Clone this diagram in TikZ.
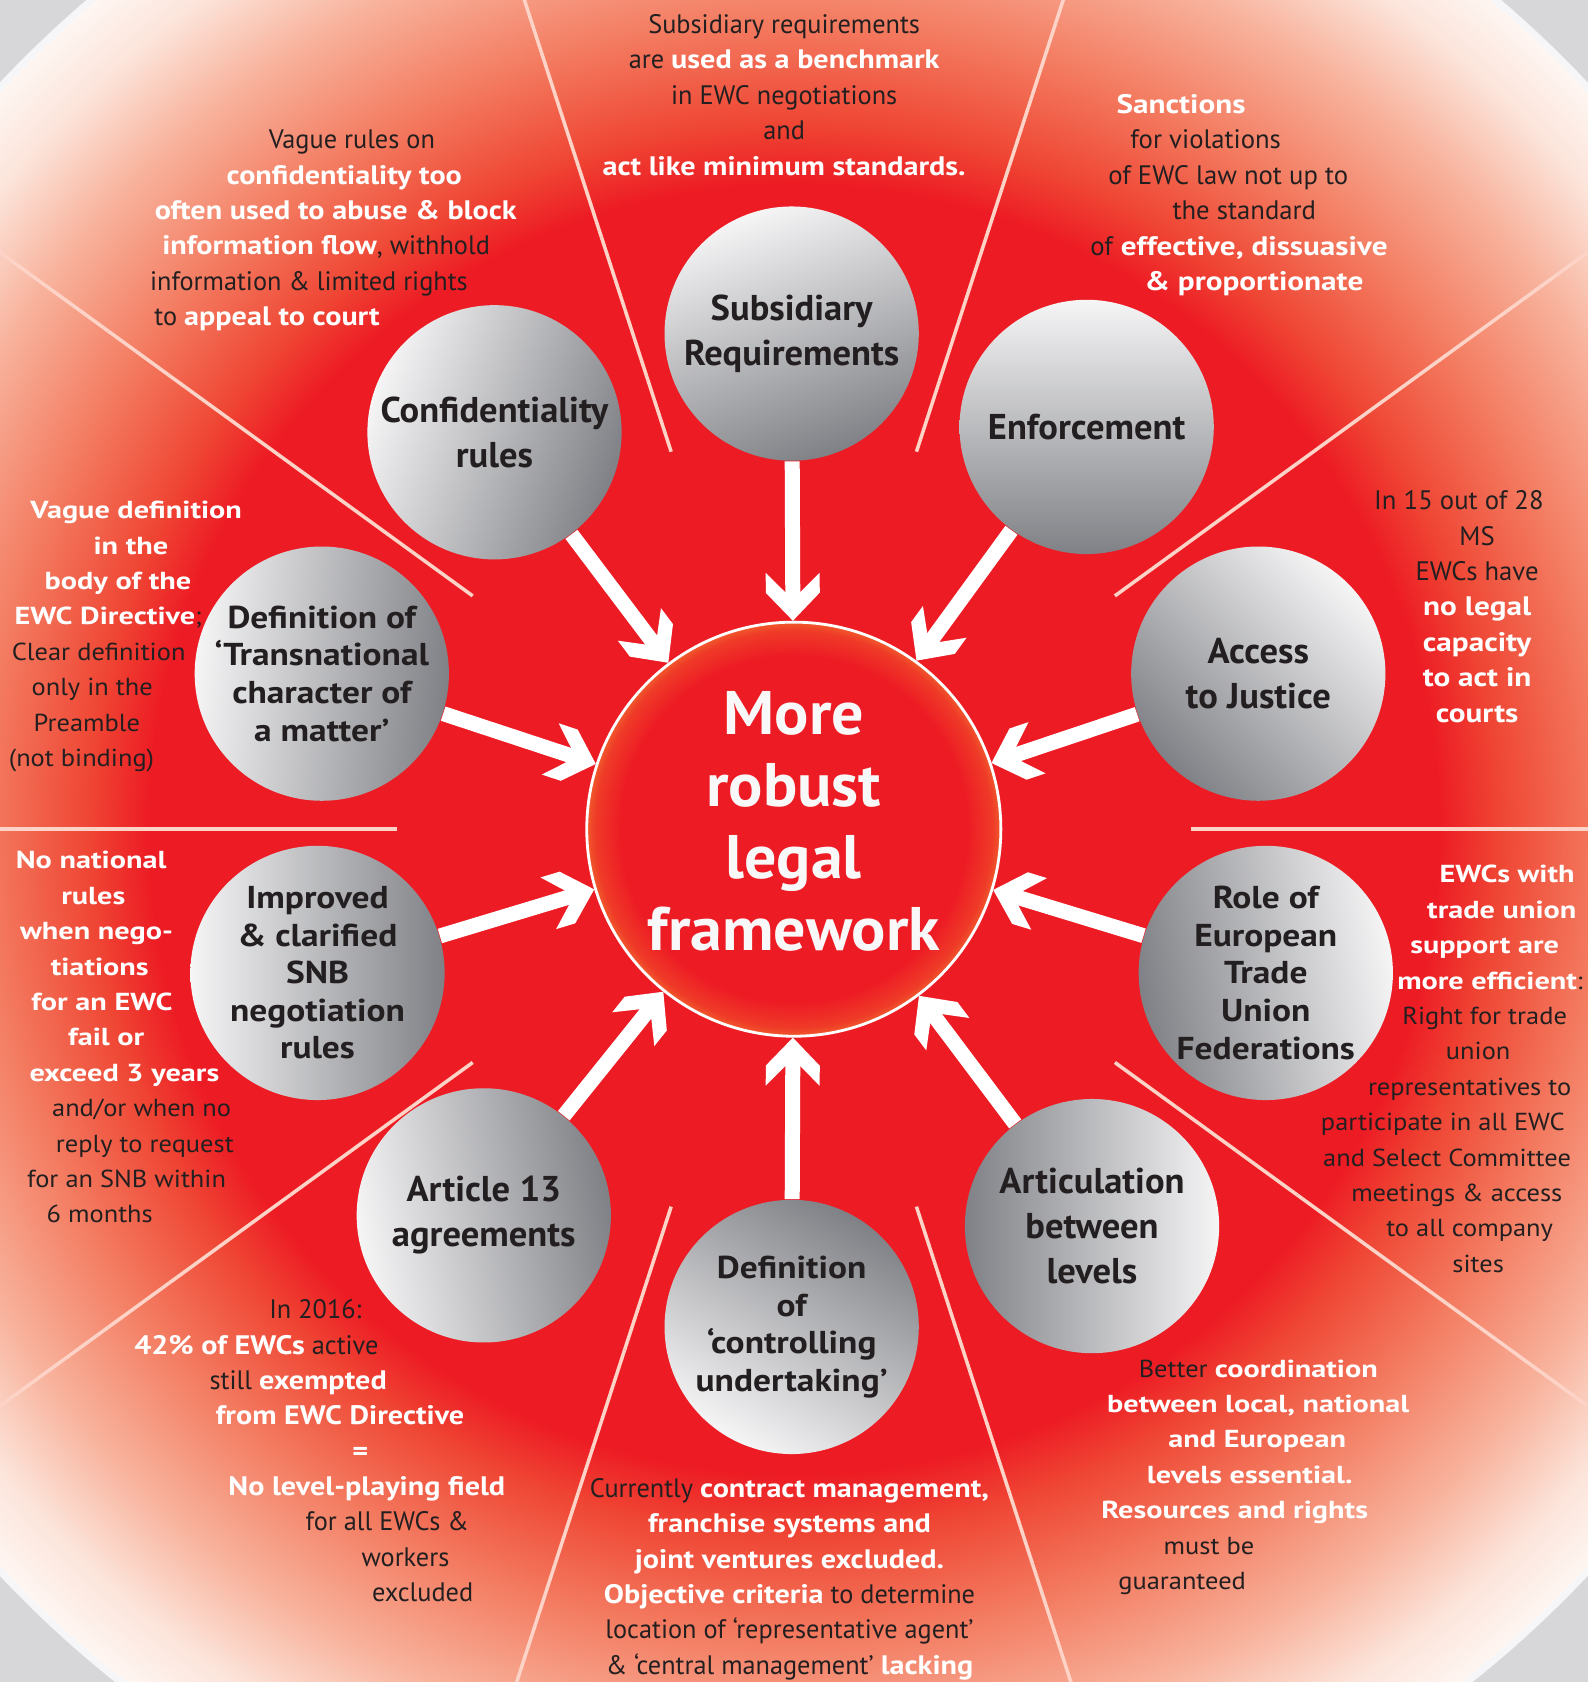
\documentclass[tikz,border=0pt]{standalone}
\usepackage{fontspec}
\setmainfont{PT Sans}
\newfontfamily\notecond{PT Sans}[UprightFeatures={FakeStretch=0.985},BoldFeatures={FakeStretch=1.13}]
\newfontfamily\notemid{PT Sans}[UprightFeatures={FakeStretch=1.0},BoldFeatures={FakeStretch=1.17}]
\newfontfamily\notewide{PT Sans}[UprightFeatures={FakeStretch=1.075},BoldFeatures={FakeStretch=1.23}]
\newfontfamily\ballfont{PT Sans}[FakeStretch=1.02]
\newfontfamily\ballwide{PT Sans}[FakeStretch=1.12]
\newfontfamily\hubfont{PT Sans}[FakeStretch=1.04]
\usetikzlibrary{arrows.meta}
\usetikzlibrary{positioning}
\usetikzlibrary{calc}

\definecolor{ewcred}{HTML}{ED1C24}
\definecolor{ewcorange}{HTML}{F05A2B}
\definecolor{hubedge}{HTML}{EF3B28}
\definecolor{rimA}{HTML}{EF4634}
\definecolor{rimB}{HTML}{F37A5F}
\definecolor{rimC}{HTML}{F8B39D}
\definecolor{rimD}{HTML}{FCE4DA}
\definecolor{rimE}{HTML}{FEF6F2}
\definecolor{rimband}{HTML}{F6F6F8}
\definecolor{spokeink}{HTML}{FCD3C6}
\definecolor{ink}{HTML}{231F20}
\definecolor{paper}{HTML}{D7D7D9}
\definecolor{ballhi}{HTML}{F5F5F6}
\definecolor{ballmid}{HTML}{C3C4C7}
\definecolor{balllo}{HTML}{808186}
\definecolor{hubink}{HTML}{F8F8F8}

% 25bp = rim radius (1009.5 units)
\pgfdeclareradialshading{rimglow}{\pgfpoint{0bp}{0bp}}{color(0bp)=(ewcred); color(14.9bp)=(ewcred); color(16.3bp)=(rimA); color(18.6bp)=(rimB); color(21.4bp)=(rimC); color(23.5bp)=(rimD); color(25bp)=(rimE); color(50bp)=(rimE)}
\pgfdeclareradialshading{hubglow}{\pgfpoint{0bp}{0bp}}{color(0bp)=(ewcred); color(21bp)=(ewcred); color(24bp)=(hubedge); color(25bp)=(ewcorange); color(50bp)=(ewcorange)}

% chevron head of the white arrows
\pgfdeclarearrow{
  name = Chevron,
  setup code = {
    \pgfarrowssettipend{0pt}
    \pgfarrowssetlineend{-7.5pt}
    \pgfarrowssetbackend{-13.66pt}
    \pgfarrowssetvisualbackend{-13.66pt}
    \pgfarrowshullpoint{0pt}{0pt}
    \pgfarrowshullpoint{-13.66pt}{7.68pt}
    \pgfarrowshullpoint{-13.66pt}{-7.68pt}
  },
  drawing code = {
    \pgfpathmoveto{\pgfqpoint{0pt}{0pt}}
    \pgfpathlineto{\pgfqpoint{-7.97pt}{7.68pt}}
    \pgfpathlineto{\pgfqpoint{-13.66pt}{7.68pt}}
    \pgfpathlineto{\pgfqpoint{-8.11pt}{2.13pt}}
    \pgfpathlineto{\pgfqpoint{-8.11pt}{-2.13pt}}
    \pgfpathlineto{\pgfqpoint{-13.66pt}{-7.68pt}}
    \pgfpathlineto{\pgfqpoint{-7.97pt}{-7.68pt}}
    \pgfpathclose
    \pgfusepathqfill
  }
}

\newlength\shu
\setlength\shu{0.2146mm}
\newcommand\sh[1]{\hspace*{#1\shu}}
\newcommand\hl[1]{\textbf{\color{white}#1}}

\begin{document}
\begin{tikzpicture}[x=0.1073mm,y=0.1073mm,
    ball/.style={circle,minimum size=25.43mm,inner sep=0pt,
      top color=ballhi,middle color=ballmid,bottom color=balllo},
    balltext/.style={text=ink,align=center,font=\ballfont\bfseries\fontsize{10.2}{12.8}\selectfont},
    ballwtext/.style={text=ink,align=center,font=\ballwide\bfseries\fontsize{9}{10.7}\selectfont},
    hub/.style={circle,minimum size=41.42mm,inner sep=0pt,draw=white,line width=0.8pt,
      shade,shading=hubglow},
    hubtext/.style={text=hubink,align=center,yshift=0.75mm,font=\hubfont\bfseries\fontsize{17.5}{20.5}\selectfont},
    push/.style={draw=white,fill=white,line width=4.27pt,-{Chevron}},
    spoke/.style={draw=spokeink,line width=1pt},
    note/.style={text=ink,align=center,font=\notecond\fontsize{7.6}{10.07}\selectfont},
    notem/.style={text=ink,align=center,font=\notemid\fontsize{7.6}{10.07}\selectfont},
    notew/.style={text=ink,align=center,font=\notewide\fontsize{7.0}{10.07}\selectfont}]

  % backdrop
  \fill[paper] (-740,-795) rectangle (740,773);
  \useasboundingbox (-740,-795) rectangle (740,773);
  \fill[rimband] (0,0) circle (1016);
  \shade[shading=rimglow] (0,0) circle (1009.5);
  \begin{scope}
    \clip (0,0) circle (1009.5);
    \foreach \a in {0,36,...,324}
      \foreach \i [evaluate=\i as \o using 0.06+0.085*\i,
                   evaluate=\i as \r using 300+70*\i,
                   evaluate=\i as \s using 370+70*\i] in {0,...,10}
        \draw[spoke,opacity=\o] (\a:\r) -- (\a:\s);
  \end{scope}

  % the ten topics
  \node[ball,shading angle=20,label={[balltext]center:{Subsidiary\\Requirements}}] (sub) at (-2,462) {};
  \node[ball,shading angle=0,label={[balltext]center:{Enforcement}}] (enf) at (273,375) {};
  \node[ball,shading angle=-45,label={[balltext]center:{Access\\to Justice}}] (jus) at (433,145) {};
  \node[ball,shading angle=-80,label={[ballwtext]center:{Role of\\European\\Trade\\Union\\Federations}}] (etuf) at (440,-134) {};
  \node[ball,shading angle=-90,label={[balltext]center:{Articulation\\between\\levels}}] (art) at (278,-370) {};
  \node[ball,shading angle=150,label={[ballwtext]center:{Definition\\of\\‘controlling\\undertaking’}}] (ctrl) at (-2,-464) {};
  \node[ball,shading angle=100,label={[balltext]center:{Article 13\\agreements}}] (a13) at (-289,-360) {};
  \node[ball,shading angle=90,label={[ballwtext]center:{Improved\\\& clarified\\SNB\\negotiation\\rules}}] (snb) at (-444,-134) {};
  \node[ball,shading angle=85,label={[ballwtext]center:{Definition of\\‘Transnational\\character of\\a matter’}}] (trans) at (-440,145) {};
  \node[ball,shading angle=70,label={[balltext]center:{Confidentiality\\rules}}] (conf) at (-279,370) {};

  \node[hub,label={[hubtext]center:{More\\robust\\legal\\framework}}] (hub) at (0,0) {};

  \foreach \n in {sub,enf,jus,etuf,art,ctrl,a13,snb,trans,conf}
    \draw[push] (\n) -- (hub);

  % notes
  \node[note] (subnote) at (-9,684.5) {Subsidiary requirements\\
    are \hl{used as a benchmark}\\ in EWC negotiations\\ and\\
    \hl{act like minimum standards.}};
  \node[note] (confnote) at (-440,558) {\sh{28}Vague rules on\\
    \sh{21}\hl{confidentiality too}\\ \sh{13}\hl{often used to abuse \& block}\\
    \sh{4}\hl{information flow}, withhold\\ \sh{-12}information \& limited rights\\
    \sh{-51}to \hl{appeal to court}};
  \node[notem] (enfnote) at (402,591) {\sh{-41}\hl{Sanctions}\\
    \sh{-18}for violations\\ \sh{3}of EWC law not up to\\ \sh{18}the standard\\
    \sh{13}of \hl{effective, dissuasive}\\ \sh{27}\hl{\& proportionate}};
  \node[notem] (jusnote) at (637,207.5) {\sh{-17}In 15 out of 28\\ MS\\ EWCs have\\
    \hl{no legal}\\ \hl{capacity}\\ \hl{to act in}\\ \hl{courts}};
  \node[notew] (etufnote) at (636,-223.5) {\sh{29}\hl{EWCs with}\\ \sh{24}\hl{trade union}\\
    \sh{8}\hl{support are}\\ \sh{13}\hl{more efficient}:\\ \sh{8}Right for trade\\
    \sh{2}union\\ \sh{-6}representatives to\\ \sh{-31}participate in all EWC\\
    \sh{-27}and Select Committee\\ \sh{-18}meetings \& access\\ \sh{-6}to all company\\ \sh{2}sites};
  \node[notew] (artnote) at (418,-604) {\sh{15}Better \hl{coordination}\\
    \sh{15}\hl{between local, national}\\ \sh{14}\hl{and European}\\
    \sh{7}\hl{levels essential.}\\ \sh{-7}\hl{Resources and rights}\\
    \sh{-31}must be\\ \sh{-56}guaranteed};
  \node[note] (ctrlnote) at (-4,-699) {Currently \hl{contract management,}\\
    \hl{franchise systems and}\\ \hl{joint ventures excluded.}\\
    \hl{Objective criteria} to determine\\ location of ‘representative agent’\\
    \& ‘central management’ \hl{lacking}};
  \node[note] (a13note) at (-413,-579.5) {\sh{-33}In 2016:\\ \sh{-88}\hl{42\% of EWCs} active\\
    \sh{-49}still \hl{exempted}\\ \sh{-10}\hl{from EWC Directive}\\ \sh{9}\hl{=}\\
    \sh{15}\hl{No level-playing field}\\ \sh{34}for all EWCs \&\\ \sh{51}workers\\ \sh{67}excluded};
  \node[notew] (snbnote) at (-636,-194) {\sh{-19}\hl{No national}\\ \sh{-17}\hl{rules}\\
    \sh{-14}\hl{when nego-}\\ \sh{-11}\hl{tiations}\\ \sh{-9}\hl{for an EWC}\\ \sh{-5}\hl{fail or}\\
    \sh{12}\hl{exceed 3 years}\\ \sh{28}and/or when no\\ \sh{31}reply to request\\
    \sh{14}for an SNB within\\ \sh{-11}6 months};
  \node[notew] (transnote) at (-641,179.5) {\sh{28}\hl{Vague definition}\\ \sh{23}\hl{in the}\\
    \sh{11}\hl{body of the}\\ \sh{2}\hl{EWC Directive};\\ \sh{-7}Clear definition\\
    \sh{-13}only in the\\ \sh{-18}Preamble\\ \sh{-23}(not binding)};
\end{tikzpicture}
\end{document}
